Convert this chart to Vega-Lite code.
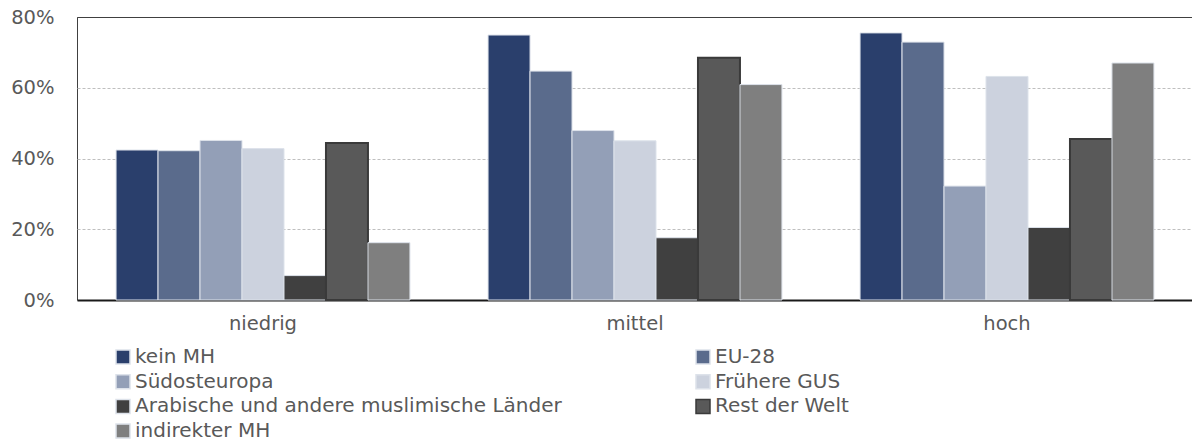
{
  "$schema": "https://vega.github.io/schema/vega-lite/v6.json",
  "autosize": "none",
  "padding": {"left": 77, "top": 17, "right": 0, "bottom": 144},
  "width": 1116,
  "height": 283,
  "background": "white",
  "config": {
    "font": "DejaVu Sans",
    "view": {"stroke": "#404040", "strokeWidth": 1},
    "axis": {"labelFont": "DejaVu Sans", "labelColor": "#595959", "labelFontSize": 19.5}
  },
  "data": {
    "values": [
      {"level": "niedrig", "group": "kein MH", "value": 0.424},
      {"level": "niedrig", "group": "EU-28", "value": 0.422},
      {"level": "niedrig", "group": "Südosteuropa", "value": 0.451},
      {"level": "niedrig", "group": "Frühere GUS", "value": 0.428},
      {"level": "niedrig", "group": "Arabische und andere muslimische Länder", "value": 0.069},
      {"level": "niedrig", "group": "Rest der Welt", "value": 0.444},
      {"level": "niedrig", "group": "indirekter MH", "value": 0.162},
      {"level": "mittel", "group": "kein MH", "value": 0.749},
      {"level": "mittel", "group": "EU-28", "value": 0.647},
      {"level": "mittel", "group": "Südosteuropa", "value": 0.479},
      {"level": "mittel", "group": "Frühere GUS", "value": 0.450},
      {"level": "mittel", "group": "Arabische und andere muslimische Länder", "value": 0.176},
      {"level": "mittel", "group": "Rest der Welt", "value": 0.685},
      {"level": "mittel", "group": "indirekter MH", "value": 0.609},
      {"level": "hoch", "group": "kein MH", "value": 0.755},
      {"level": "hoch", "group": "EU-28", "value": 0.729},
      {"level": "hoch", "group": "Südosteuropa", "value": 0.322},
      {"level": "hoch", "group": "Frühere GUS", "value": 0.632},
      {"level": "hoch", "group": "Arabische und andere muslimische Länder", "value": 0.205},
      {"level": "hoch", "group": "Rest der Welt", "value": 0.455},
      {"level": "hoch", "group": "indirekter MH", "value": 0.670}
    ]
  },
  "mark": {"type": "bar"},
  "encoding": {
    "x": {
      "field": "level", "type": "nominal", "sort": ["niedrig", "mittel", "hoch"],
      "scale": {"paddingInner": 0.21, "paddingOuter": 0.105},
      "axis": {"title": null, "labelAngle": 0, "ticks": false, "domainColor": "#1a1a1a", "domainWidth": 2, "labelPadding": 14}
    },
    "xOffset": {
      "field": "group", "type": "nominal",
      "sort": ["kein MH", "EU-28", "Südosteuropa", "Frühere GUS", "Arabische und andere muslimische Länder", "Rest der Welt", "indirekter MH"],
      "scale": {"paddingInner": 0, "paddingOuter": 0}
    },
    "y": {
      "field": "value", "type": "quantitative",
      "scale": {"domain": [0, 0.8], "nice": false},
      "axis": {"title": null, "format": ".0%", "values": [0, 0.2, 0.4, 0.6, 0.8], "ticks": false, "domain": false, "labelPadding": 23,
        "gridColor": {"condition": {"test": "datum.value >= 0.79", "value": "#404040"}, "value": "#bfbfbf"},
        "gridDash": {"condition": {"test": "datum.value >= 0.79", "value": []}, "value": [3, 2]},
        "gridWidth": 1}
    },
    "fill": {
      "field": "group", "type": "nominal",
      "scale": {
        "domain": ["kein MH", "EU-28", "Südosteuropa", "Frühere GUS", "Arabische und andere muslimische Länder", "Rest der Welt", "indirekter MH"],
        "range": ["#2a3f6c", "#5a6b8c", "#939fb7", "#ccd2de", "#404040", "#595959", "#7f7f7f"]
      },
      "legend": {
        "title": null, "orient": "none", "direction": "horizontal", "legendX": 36, "legendY": 330, "columns": 2, "columnPadding": 131,
        "rowPadding": 4.7, "symbolType": "square", "symbolSize": 196, "labelFontSize": 20, "labelColor": "#595959",
        "labelFont": "DejaVu Sans", "labelLimit": 600, "labelOffset": 2, "symbolStrokeWidth": 1.5, "symbolOpacity": 1
      }
    },
    "stroke": {
      "field": "group", "type": "nominal",
      "scale": {
        "domain": ["kein MH", "EU-28", "Südosteuropa", "Frühere GUS", "Arabische und andere muslimische Länder", "Rest der Welt", "indirekter MH"],
        "range": ["#dde2ea", "#dde2ea", "#dde2ea", "#dde2ea", "#dde2ea", "#3a3a3a", "#dde2ea"]
      }
    },
    "strokeWidth": {
      "condition": {"test": "datum.group === 'Rest der Welt'", "value": 2},
      "value": 1
    },
    "fillOpacity": {"value": 1}
  }
}
